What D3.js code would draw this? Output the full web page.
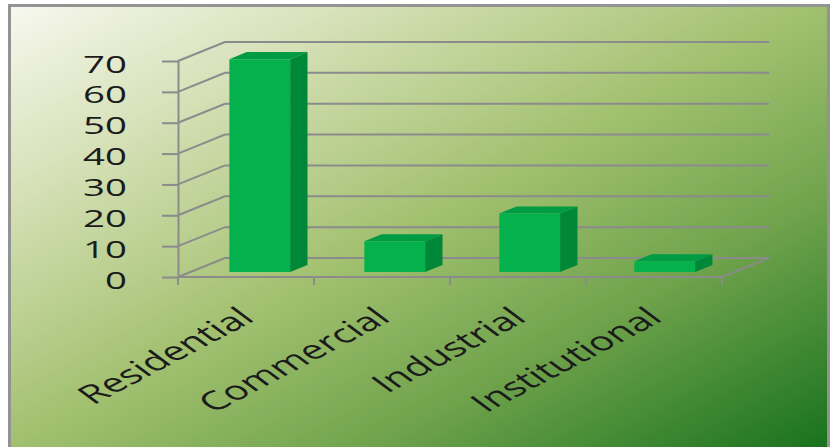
<!DOCTYPE html>
<html>
<head>
<meta charset="utf-8">
<script src="https://cdn.jsdelivr.net/npm/d3@7"></script>
<style>
  body { margin: 0; background: #fff; }
  svg { display: block; }
  text { font-family: "Open Sans", sans-serif; fill: #1b1b1b; }
</style>
</head>
<body>
<svg id="chart" width="833" height="447"></svg>
<script>
// chart data
const categories = ["Residential", "Commercial", "Industrial", "Institutional"];
const values = [69, 10, 19, 3.5];
const yTicks = [0, 10, 20, 30, 40, 50, 60, 70];

const svg = d3.select("#chart");

// background gradient (white top-left to dark green bottom-right)
let defs = svg.append("defs");
let grad = defs.append("linearGradient").attr("id", "bg")
    .attr("x1", 0).attr("y1", 0).attr("x2", 1).attr("y2", 1);
[[0, "#f7f8ef"], [0.22, "#d5e0b6"], [0.48, "#a4c272"], [0.72, "#6ea24b"], [1, "#17711d"]]
    .forEach(s => grad.append("stop").attr("offset", s[0]).attr("stop-color", s[1]));

svg.append("rect")
    .attr("x", 9.5).attr("y", 5.5).attr("width", 819).attr("height", 446)
    .attr("fill", "url(#bg)")
    .attr("stroke", "#939393").attr("stroke-width", 3);

// scales. the "3D" box: front plane plus a depth offset
const DX = 47, DY = 19;
let y = d3.scaleLinear().domain([0, 70]).range([277, 61]);
let x = d3.scaleBand().domain(categories).range([178, 722])
    .paddingInner(0.55).paddingOuter(0.29);
let xTick = d3.scaleLinear().domain([0, categories.length]).range([178, 722]);

const proj = (px, v, z) => [px + z * DX, y(v) - z * DY];
const grid = "#8b8b8b";

// walls: side diagonals + back gridlines
let walls = svg.append("g");
yTicks.forEach(t => {
    let a = proj(178, t, 0), b = proj(178, t, 1), c = proj(722, t, 1);
    walls.append("path")
        .attr("d", `M${a}L${b}L${c}`)
        .attr("fill", "none").attr("stroke", grid).attr("stroke-width", 2);
});

// floor front edge + right diagonal
let f0 = proj(178, 0, 0), f1 = proj(722, 0, 0), f2 = proj(722, 0, 1);
walls.append("path").attr("d", `M${f0}L${f1}L${f2}`)
    .attr("fill", "none").attr("stroke", grid).attr("stroke-width", 2);

// category ticks
d3.range(categories.length + 1).forEach(i => {
    walls.append("line")
        .attr("x1", xTick(i)).attr("x2", xTick(i))
        .attr("y1", y(0)).attr("y2", y(0) + 8)
        .attr("stroke", grid).attr("stroke-width", 2);
});

// y axis
let yAxis = svg.append("g").attr("transform", "translate(178,0)")
    .call(d3.axisLeft(y).tickValues(yTicks).tickSize(16).tickSizeOuter(0));
yAxis.select(".domain").attr("stroke", grid).attr("stroke-width", 2);
yAxis.selectAll(".tick line").attr("stroke", grid).attr("stroke-width", 2);
yAxis.selectAll(".tick text")
    .attr("x", 0).attr("dy", "0.46em")
    .attr("transform", "translate(-51,0) scale(1.6,1)")
    .attr("font-size", 24).attr("font-family", "Open Sans").attr("fill", "#1b1b1b");

// bars
const z0 = 0.26, z1 = 0.63;
let bars = svg.append("g").selectAll("g").data(categories).enter().append("g");
const poly = pts => "M" + pts.join("L") + "Z";

bars.append("path").attr("fill", "#009c43")
    .attr("d", (d, i) => {
        let a = x(d), b = x(d) + x.bandwidth(), v = values[i];
        return poly([proj(a, v, z0), proj(b, v, z0), proj(b, v, z1), proj(a, v, z1)]);
    });
bars.append("path").attr("fill", "#008838")
    .attr("d", (d, i) => {
        let b = x(d) + x.bandwidth(), v = values[i];
        return poly([proj(b, 0, z0), proj(b, 0, z1), proj(b, v, z1), proj(b, v, z0)]);
    });
bars.append("path").attr("fill", "#05b14c")
    .attr("d", (d, i) => {
        let a = x(d), b = x(d) + x.bandwidth(), v = values[i];
        return poly([proj(a, 0, z0), proj(b, 0, z0), proj(b, v, z0), proj(a, v, z0)]);
    });

// category labels (rotated, stretched wide like the picture)
svg.append("g").selectAll("text").data(categories).enter().append("text")
    .attr("text-anchor", "end")
    .attr("font-size", 26)
    .attr("transform", (d, i) => `translate(${xTick(i + 0.5) + 10},320) scale(1.6,1) rotate(-40)`)
    .text(d => d);
</script>
</body>
</html>
